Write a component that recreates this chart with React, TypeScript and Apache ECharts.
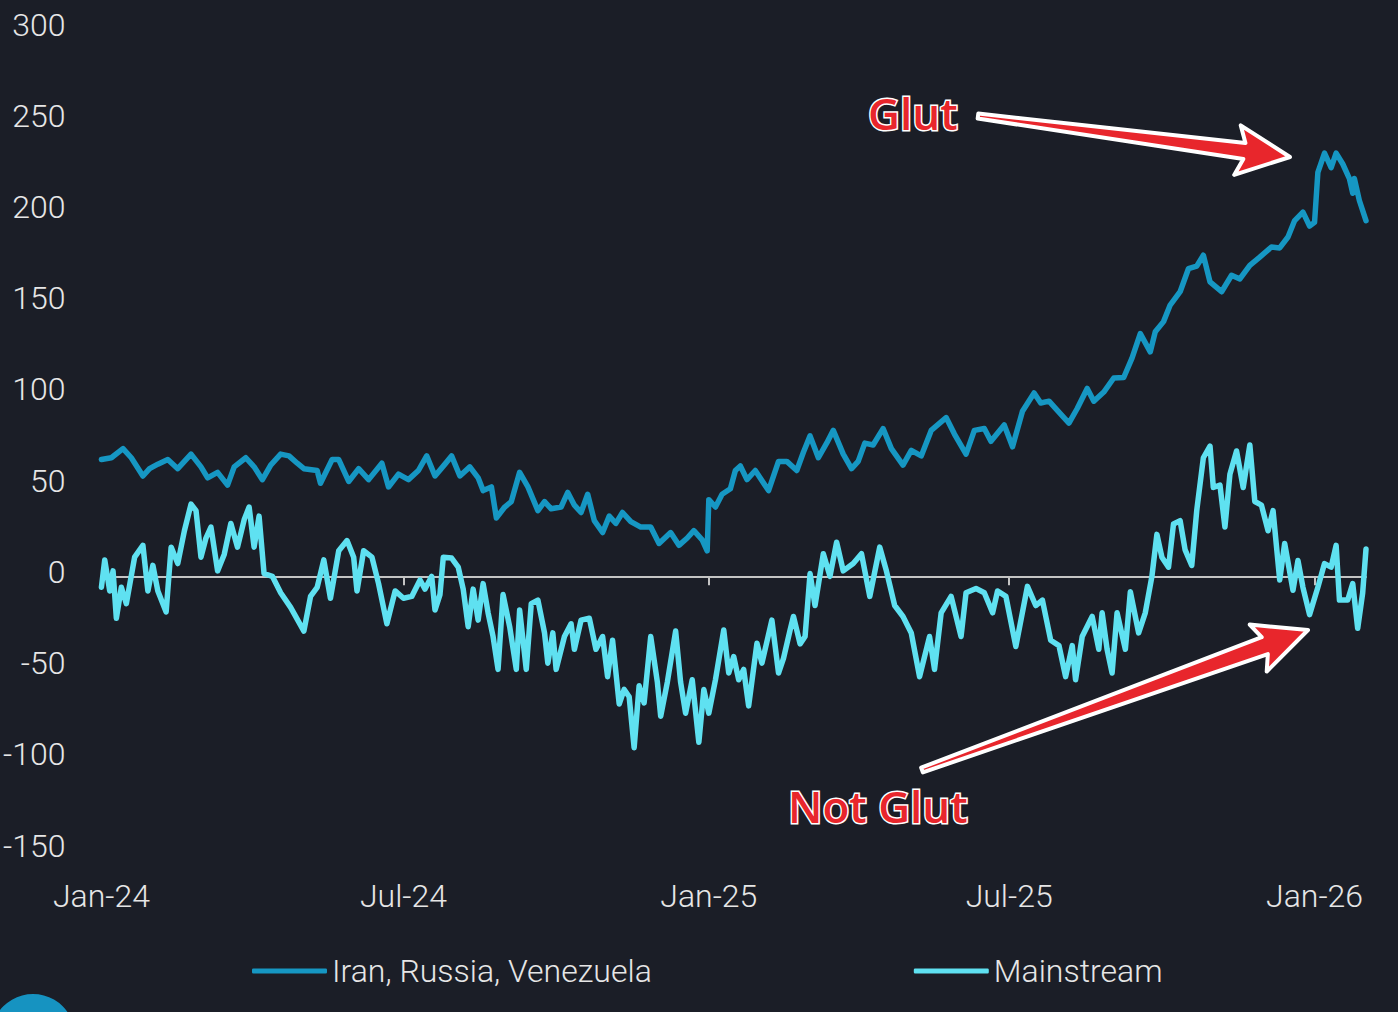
import React, { useEffect, useRef } from "react";
import * as echarts from "echarts";

// Days since 2024-01-01 and values
const ircPoints: [number, number][] = [
  [0,64],[6,65],[13,70],[18,65],[25,55],[29,59],[34,61.5],[40,64],[46,59],[54,67],[60,60],[64,54],[70,57],[76,50],[80,60],[87,65],[92,60],[97,53],[102,61],[108,67],[113,66],[118,62],[122,59],[130,58],[132,51],[139,64],[143,64],[149,52],[155,59],[161,53],[169,62],[173,49],[179,56],[185,53],[191,58],[196,66],[201,55],[207,61.5],[211,66],[216,55],[222,60],[227,54],[230,47],[235,49],[238,32],[243,38],[247,41],[252,57],[257,49],[263,36],[267,41],[271,37],[277,38],[281,46],[285,39],[289,35],[293,45],[297,30.5],[302,24],[306,33],[310,29],[314,35],[319,30],[325,27],[331,27],[336,18],[343,24],[348,17],[353,21],[357,25],[362,20],[365,14],[366,42],[370,38],[374,45],[379,48],[382,58],[385,60.5],[389,53],[394,58],[402,47],[408,63],[413,63],[419,58],[423,68],[427,77],[432,65],[437,73],[441,80],[447,67],[452,59],[456,63],[460,73],[465,72],[471,81],[476,70],[483,61],[488,69],[494,66],[500,80],[509,87],[514,78],[521,67],[526,80],[532,81],[536,74],[544,83],[549,71],[555,90.5],[562,100.5],[566,95],[571,96],[576,91],[583,84],[588,92],[594,103],[598,96],[604,101],[610,108.7],[616,109],[621,119.6],[626,133],[632,123],[635,134],[640,139.6],[644,148.7],[650,156],[655,168.6],[660,170],[664,176],[668,161.4],[675,156],[681,165],[686,163],[692,170.5],[698,175],[705,180.5],[710,180],[715,186],[719,195],[724,199.6],[728,192],[731,194],[733,221.4],[737,232],[741,224],[744,232],[748,226],[752,218],[754,210],[755,218],[758,206],[762,195]
];

const mainstreamPoints: [number, number][] = [
  [0,-6],[2,9],[5,-8],[7,3],[9,-23],[12,-6],[15,-15],[20,10.5],[25,17],[28,-8],[31,6],[34,-8],[39,-19.5],[42,16],[46,7],[50,25],[54,39.6],[57,36],[60,10.5],[63,21],[66,27],[70,3],[74,12],[78,29],[82,16],[86,31],[89,38],[92,16],[95,33],[98,1.5],[103,0],[108,-9],[114,-17],[122,-30],[126,-11],[130,-6],[134,9],[138,-12],[143,14],[148,19.6],[152,10.5],[154,-8],[158,14],[163,10.5],[167,-4],[172,-26],[177,-8],[182,-12],[187,-11],[192,-2],[195,-7],[199,0],[201,-18.5],[204,-10],[206,10.5],[211,10],[215,5],[218,-7],[221,-27.6],[224,-7],[227,-24],[230,-4],[233,-20],[236,-33],[239,-51],[242,-10],[246,-27.6],[250,-51],[252,-18.5],[256,-51],[259,-15],[263,-13],[267,-31],[269,-47.6],[272,-31],[274,-51],[279,-33],[283,-26],[285,-40],[289,-24],[294,-23],[298,-40],[302,-33],[305,-55],[308,-35],[312,-70],[315,-62],[318,-66],[321,-94],[324,-60],[327,-69.4],[331,-33],[335,-58],[337,-76.7],[341,-58],[346,-30],[349,-58],[352,-75],[356,-56.7],[360,-91],[363,-62],[366,-75],[370,-56.7],[375,-29.4],[378,-53],[381,-44],[384,-56.7],[387,-51],[390,-71],[395,-36.7],[398,-47.6],[404,-24],[408,-53],[411,-45],[415,-29.4],[417,-22],[421,-37],[424,-33],[427,1.5],[430,-16],[435,12.4],[439,0],[443,18.7],[447,3],[453,7],[458,12.4],[463,-11],[469,16],[473,3],[478,-16],[483,-22],[488,-31],[493,-55],[499,-33],[502,-51],[506,-20],[512,-11],[518,-33],[521,-9],[527,-6.7],[532,-9],[537,-20],[540,-8],[545,-11],[551,-38.5],[558,-5.5],[563,-16],[567,-13],[572,-35],[577,-38],[581,-55],[585,-38],[587,-56.7],[591,-33],[597,-22],[601,-40],[603,-20],[606,-40],[609,-53],[612,-20],[617,-40],[620,-8.5],[625,-31],[629,-20],[633,0],[636,23],[639,10.5],[643,5],[646,28.7],[650,30.5],[653,14.5],[657,6],[660,36],[664,65],[668,71.4],[670,48.7],[674,50],[677,27],[680,56],[684,68.7],[688,48.7],[692,72],[695,41],[699,39],[703,25],[706,36],[710,-2],[713,18],[718,-7.6],[721,8.7],[724,-6],[728,-21],[733,-6],[737,7],[741,5],[744,17],[746,-13],[751,-13],[754,-4],[757,-28.5],[760,-9],[762,15]
];

const seriesNames = ["Iran, Russia, Venezuela", "Mainstream"];
const xTickDays = [0, 182, 366, 547, 731];
const xTickLabels = ["Jan-24", "Jul-24", "Jan-25", "Jul-25", "Jan-26"];
const yMin = -150;
const yMax = 300;
const yStep = 50;
const xMaxDay = 762;

const BG = "#1b1e27";
const IRV_COLOR = "#1697c3";
const MS_COLOR = "#5fe1f1";
const TEXT = "#e6e6e6";
const RED = "#e8262c";

function arrowPoints(tx: number, ty: number, px: number, py: number, headLen: number, headHalf: number, tailHalf: number, neckHalf: number) {
  const dx = px - tx, dy = py - ty;
  const len = Math.hypot(dx, dy);
  const ux = dx / len, uy = dy / len;
  const nx = -uy, ny = ux;
  const bx = px - headLen * ux, by = py - headLen * uy;
  return [
    [tx + tailHalf * nx, ty + tailHalf * ny],
    [bx + neckHalf * nx, by + neckHalf * ny],
    [bx + headHalf * nx - 7 * ux, by + headHalf * ny - 7 * uy],
    [px, py],
    [bx - headHalf * nx - 7 * ux, by - headHalf * ny - 7 * uy],
    [bx - neckHalf * nx, by - neckHalf * ny],
    [tx - tailHalf * nx, ty - tailHalf * ny],
  ];
}

export default function App() {
  const ref = useRef<HTMLDivElement>(null);
  useEffect(() => {
    const chart = echarts.init(ref.current!, null, { renderer: "svg" });
    const labelFont = { fontFamily: "Roboto", fontWeight: 300 as any, fontSize: 32, color: TEXT };
    chart.setOption({
      animation: false,
      backgroundColor: BG,
      grid: { left: 100, right: 32, top: 29, bottom: 162, containLabel: false },
      legend: {
        data: seriesNames,
        left: 247,
        top: 948,
        icon: "roundRect",
        itemWidth: 75,
        itemHeight: 5,
        itemGap: 262,
        textStyle: { ...labelFont, lineHeight: 36 },
      },
      xAxis: [
        {
          type: "value",
          min: 0,
          max: xMaxDay,
          axisLine: { show: true, onZero: true, lineStyle: { color: "#c4c4c4", width: 2 } },
          axisTick: { show: true, customValues: xTickDays, length: 9, lineStyle: { color: "#c4c4c4", width: 2 } },
          axisLabel: { show: false },
          splitLine: { show: false },
        },
        {
          type: "value",
          position: "bottom",
          min: 0,
          max: xMaxDay,
          axisLine: { show: false, onZero: false },
          axisTick: { show: false },
          splitLine: { show: false },
          axisLabel: {
            ...labelFont,
            margin: 30,
            customValues: xTickDays,
            formatter: (v: number) => {
              const i = xTickDays.indexOf(v);
              return i >= 0 ? xTickLabels[i] : "";
            },
          },
        },
      ],
      yAxis: {
        type: "value",
        min: yMin,
        max: yMax,
        interval: yStep,
        axisLine: { show: false },
        axisTick: { show: false },
        splitLine: { show: false },
        axisLabel: { ...labelFont, margin: 36, verticalAlign: "bottom", lineHeight: 9 },
      },
      series: [
        {
          name: seriesNames[0],
          type: "line",
          xAxisIndex: 0,
          data: ircPoints,
          showSymbol: false,
          color: IRV_COLOR,
          lineStyle: { color: IRV_COLOR, width: 5.5, join: "round", cap: "round" },
        },
        {
          name: seriesNames[1],
          type: "line",
          xAxisIndex: 0,
          data: mainstreamPoints,
          showSymbol: false,
          color: MS_COLOR,
          lineStyle: { color: MS_COLOR, width: 5.5, join: "round", cap: "round" },
        },
      ],
      graphic: [
        { type: "circle", shape: { cx: 33, cy: 1036, r: 42 }, style: { fill: "#1693c1" } },
        {
          type: "polygon",
          shape: { points: arrowPoints(978, 116, 1290, 157, 46, 25, 2.5, 8) },
          style: { fill: RED, stroke: "#ffffff", lineWidth: 4, lineJoin: "round" },
        },
        {
          type: "polygon",
          shape: { points: arrowPoints(922, 770, 1308, 630, 46, 25, 2.5, 9) },
          style: { fill: RED, stroke: "#ffffff", lineWidth: 4, lineJoin: "round" },
        },
        {
          type: "text",
          x: 868,
          y: 113,
          style: {
            text: "Glut",
            fill: RED,
            stroke: "#ffffff",
            lineWidth: 3,
            font: "600 44px 'Open Sans'",
            textAlign: "left",
            textVerticalAlign: "middle",
          },
        },
        {
          type: "text",
          x: 788,
          y: 806,
          style: {
            text: "Not Glut",
            fill: RED,
            stroke: "#ffffff",
            lineWidth: 3,
            font: "600 44px 'Open Sans'",
            textAlign: "left",
            textVerticalAlign: "middle",
          },
        },
      ],
    });
    return () => chart.dispose();
  }, []);
  return <div ref={ref} style={{ position: "fixed", left: 0, top: 0, width: 1398, height: 1012 }} />;
}
